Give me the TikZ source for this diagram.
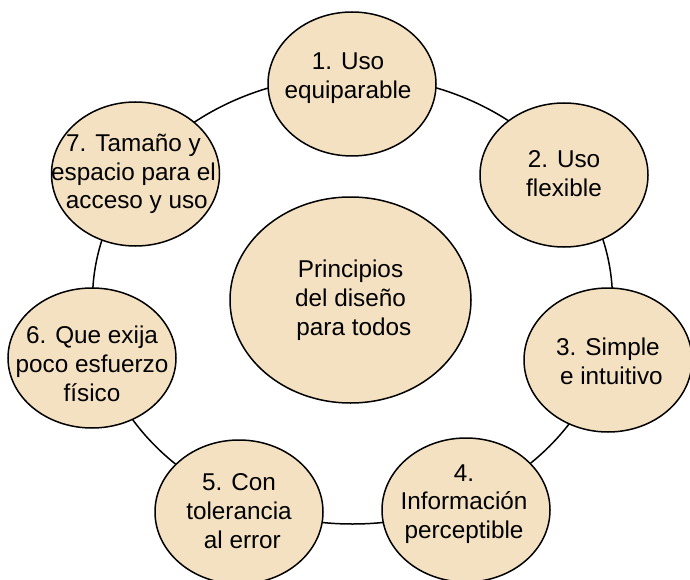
\documentclass[tikz,border=0pt]{standalone}
\usepackage{fontspec}
\setmainfont{Liberation Sans}
\usetikzlibrary{shapes.geometric,calc}
\definecolor{bubfill}{RGB}{244,225,194}
\tikzset{
  bub/.style={ellipse, draw=black, fill=bubfill, line width=1.5pt, inner sep=0pt},
  bsmall/.style={bub, minimum width=168pt, minimum height=144pt},
  txt/.style={align=center, inner sep=0pt, font=\fontsize{24.3}{28.8}\selectfont},
  ring/.style={draw=black, line width=1.5pt}
}
\begin{document}
\begin{tikzpicture}[x=1pt,y=-1pt]
\useasboundingbox (0,0) rectangle (690,580);
\coordinate (rc) at (352.5,300);
\draw[ring] (rc) ellipse [x radius=260, y radius=224];
\node[bub, minimum width=241pt, minimum height=206pt] (n0) at (350.5,300) {};
\node[bsmall] (n1) at (352,84) {};
\node[bsmall] (n2) at (564,175) {};
\node[bsmall] (n3) at (608,360) {};
\node[bsmall] (n4) at (466,510) {};
\node[bsmall] (n5) at (239,512) {};
\node[bsmall, minimum height=140pt] (n6) at (92,358) {};
\node[bsmall] (n7) at (135.5,174) {};
\node[txt] (t0) at ($(n0)+(0,0)$) {Principios\\del diseño\\\ para todos};
\node[txt] (t1) at ($(n1)+(-4,-6)$) {1. Uso\\equiparable};
\node[txt] (t2) at ($(n2)+(0,-1)$) {2. Uso\\flexible};
\node[txt] (t3) at ($(n3)+(0,1)$) {3. Simple\\\ e intuitivo};
\node[txt] (t4) at ($(n4)+(-2,-6)$) {4.\\Información\\perceptible};
\node[txt] (t5) at ($(n5)+(0,-1)$) {5. Con\\tolerancia\\\ al error};
\node[txt] (t6) at ($(n6)+(0,6)$) {6. Que exija\\poco esfuerzo\\físico};
\node[txt] (t7) at ($(n7)+(-2,0)$) {7. Tamaño y\\espacio para el\\\ acceso y uso};
\end{tikzpicture}
\end{document}
